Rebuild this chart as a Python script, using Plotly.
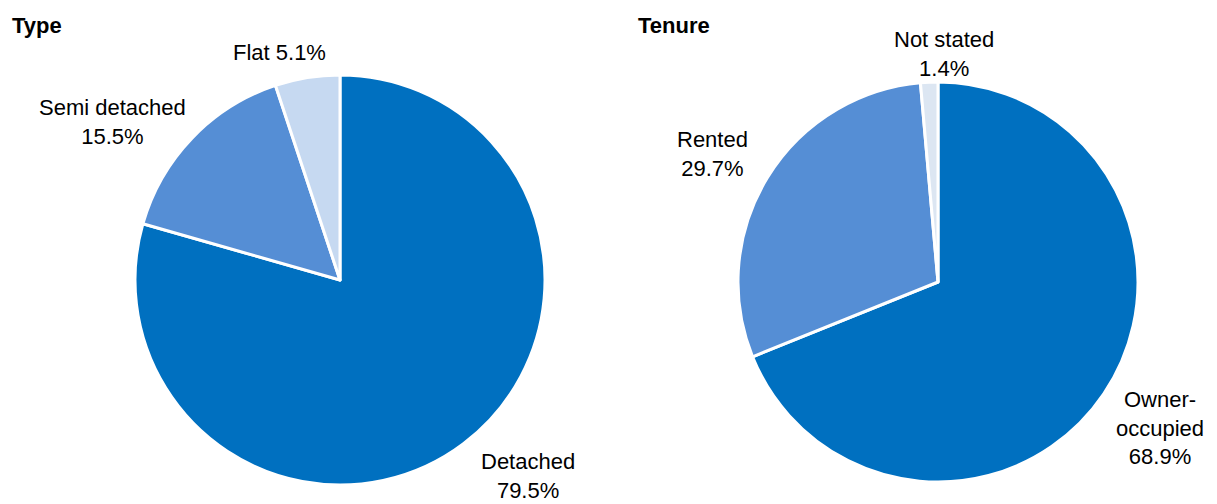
import plotly.graph_objects as go

# Page has an 8px body margin; figure drawn in the remaining area
OFF = 8
W, H = 1217 - OFF, 504 - OFF

type_labels = ["Detached", "Semi detached", "Flat"]
type_values = [79.5, 15.5, 5.1]
type_colors = ["#0070C0", "#558ED5", "#C6D9F1"]

tenure_labels = ["Owner-occupied", "Rented", "Not stated"]
tenure_values = [68.9, 29.7, 1.4]
tenure_colors = ["#0070C0", "#558ED5", "#DCE6F2"]

type_label_text = ["Detached<br>79.5%", "Semi detached<br>15.5%", "Flat 5.1%"]
tenure_label_text = ["Owner-<br>occupied<br>68.9%", "Rented<br>29.7%", "Not stated<br>1.4%"]

def px(x0, x1):
    return [(x0 - OFF) / W, (x1 - OFF) / W]

def py(top, bottom):
    return [(H - (bottom - OFF)) / H, (H - (top - OFF)) / H]

fig = go.Figure()
fig.add_trace(go.Pie(
    labels=type_labels, values=type_values, sort=False, direction="clockwise", rotation=0,
    marker=dict(colors=type_colors, line=dict(color="white", width=3)),
    textinfo="none", hoverinfo="label+percent", showlegend=False,
    domain=dict(x=px(135, 545), y=py(75, 485)),
))
fig.add_trace(go.Pie(
    labels=tenure_labels, values=tenure_values, sort=False, direction="clockwise", rotation=0,
    marker=dict(colors=tenure_colors, line=dict(color="white", width=3)),
    textinfo="none", hoverinfo="label+percent", showlegend=False,
    domain=dict(x=px(738, 1138), y=py(82, 482)),
))

font = dict(family="Liberation Sans, Arial, sans-serif", size=22, color="#000000")

def ann(text, x, y, bold=False, xanchor="center"):
    fig.add_annotation(
        text=f"<b>{text}</b>" if bold else text,
        x=(x - OFF) / W, y=(H - (y - OFF)) / H, xref="paper", yref="paper",
        xanchor=xanchor, yanchor="middle", showarrow=False, font=font, align="center",
    )

ann("Type", 10, 26, bold=True, xanchor="left")
ann("Tenure", 636, 26, bold=True, xanchor="left")

type_pos = [(528, 476), (112, 122), (279, 52)]
for t, (x, y) in zip(type_label_text, type_pos):
    ann(t, x, y)

tenure_pos = [(1160, 428), (712, 154), (944, 54)]
for t, (x, y) in zip(tenure_label_text, tenure_pos):
    ann(t, x, y)

fig.update_layout(
    width=W, height=H, margin=dict(l=0, r=0, t=0, b=0),
    paper_bgcolor="white", plot_bgcolor="white",
)

fig.write_html("out.html")
